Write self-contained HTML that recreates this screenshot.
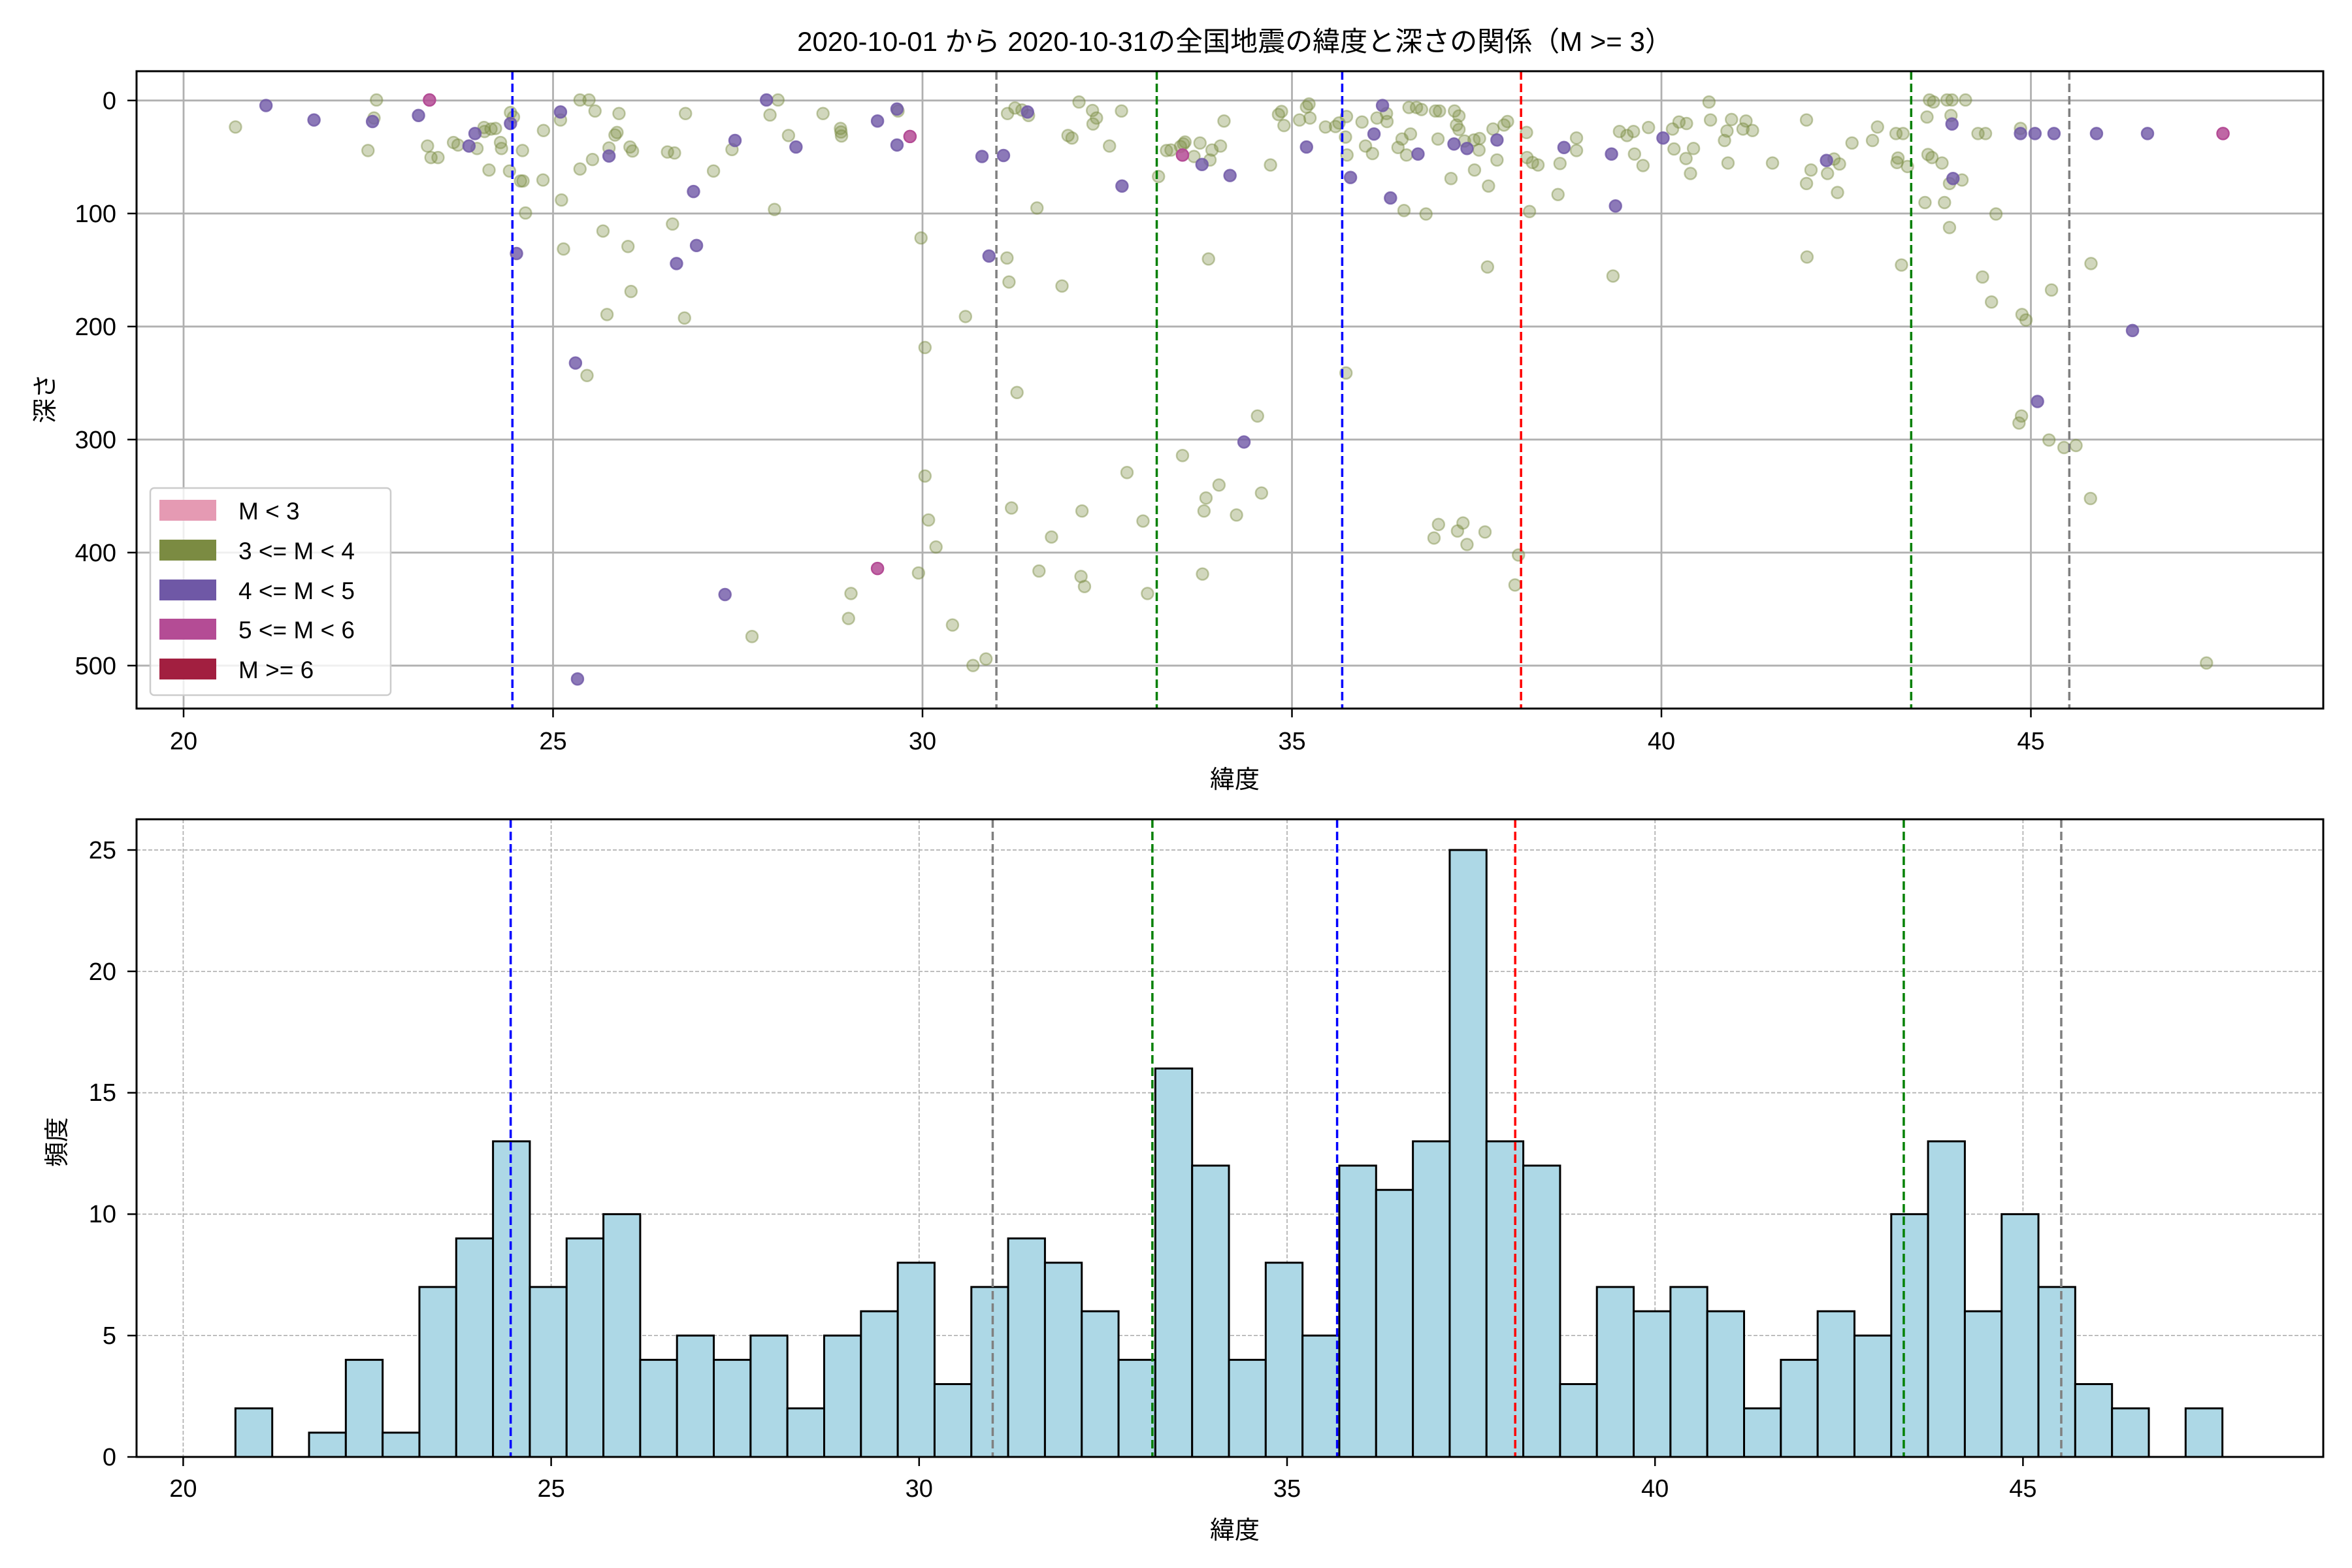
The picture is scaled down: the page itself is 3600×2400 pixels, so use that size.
<!DOCTYPE html>
<html><head><meta charset="utf-8"><style>
html,body{margin:0;padding:0;background:#fff;}
svg{display:block;}
text{font-family:"Liberation Sans","Noto Sans CJK JP",sans-serif;fill:#000;}
</style></head><body>
<svg id="s" width="3600" height="2400" viewBox="0 0 3600 2400" xmlns="http://www.w3.org/2000/svg">
<rect width="3600" height="2400" fill="#fff"/>
<g id="topgrid"></g>
<g id="pts"></g>
<g id="topv"></g>
<rect x="209" y="109" width="3347" height="975.5" fill="none" stroke="#000" stroke-width="3"/>
<g id="topticks"></g>
<text x="1890" y="78" font-size="42" text-anchor="middle">2020-10-01 から 2020-10-31の全国地震の緯度と深さの関係（M &gt;= 3）</text>
<text x="1890" y="1206" font-size="38" text-anchor="middle">緯度</text>
<text transform="translate(82,610) rotate(-90)" font-size="38" text-anchor="middle">深さ</text>
<text x="1890" y="2355" font-size="38" text-anchor="middle">緯度</text>
<text transform="translate(100,1748) rotate(-90)" font-size="38" text-anchor="middle">頻度</text>
<g id="legend">
<rect x="230" y="747" width="368" height="317" rx="6" fill="#fff" fill-opacity="0.8" stroke="#ccc" stroke-width="2.5"/>
<rect x="244" y="765" width="87" height="32" fill="#e59ab3"/>
<rect x="244" y="826" width="87" height="32" fill="#7b8b42"/>
<rect x="244" y="887" width="87" height="32" fill="#6f58a6"/>
<rect x="244" y="947" width="87" height="32" fill="#b44c95"/>
<rect x="244" y="1008" width="87" height="32" fill="#a21f40"/>
<text x="365" y="795" font-size="37">M &lt; 3</text>
<text x="365" y="856" font-size="37">3 &lt;= M &lt; 4</text>
<text x="365" y="917" font-size="37">4 &lt;= M &lt; 5</text>
<text x="365" y="977" font-size="37">5 &lt;= M &lt; 6</text>
<text x="365" y="1038" font-size="37">M &gt;= 6</text>
</g>
<g id="botgrid"></g>
<g id="bars"></g>
<g id="botv"></g>
<rect x="209" y="1254" width="3347" height="976" fill="none" stroke="#000" stroke-width="3"/>
<g id="botticks"></g>
<g id="ticktext" font-size="38">
<text x="281" y="1147" text-anchor="middle">20</text>
<text x="846.5" y="1147" text-anchor="middle">25</text>
<text x="1412" y="1147" text-anchor="middle">30</text>
<text x="1977.5" y="1147" text-anchor="middle">35</text>
<text x="2543" y="1147" text-anchor="middle">40</text>
<text x="3108.5" y="1147" text-anchor="middle">45</text>
<text x="178" y="167" text-anchor="end">0</text>
<text x="178" y="340" text-anchor="end">100</text>
<text x="178" y="513" text-anchor="end">200</text>
<text x="178" y="686" text-anchor="end">300</text>
<text x="178" y="859" text-anchor="end">400</text>
<text x="178" y="1032" text-anchor="end">500</text>
<text x="280.4" y="2291" text-anchor="middle">20</text>
<text x="843.6" y="2291" text-anchor="middle">25</text>
<text x="1406.8" y="2291" text-anchor="middle">30</text>
<text x="1970" y="2291" text-anchor="middle">35</text>
<text x="2533.2" y="2291" text-anchor="middle">40</text>
<text x="3096.4" y="2291" text-anchor="middle">45</text>
<text x="178" y="2243" text-anchor="end">0</text>
<text x="178" y="2057" text-anchor="end">5</text>
<text x="178" y="1871" text-anchor="end">10</text>
<text x="178" y="1685" text-anchor="end">15</text>
<text x="178" y="1500" text-anchor="end">20</text>
<text x="178" y="1314" text-anchor="end">25</text>
</g>
</svg>
<script>
var NS="http://www.w3.org/2000/svg";
function el(p,t,a){var e=document.createElementNS(NS,t);for(var k in a)e.setAttribute(k,a[k]);document.getElementById(p).appendChild(e);return e;}
var tx=function(v){return 281+113.1*(v-20);}, ty=function(d){return 153.8+1.73*d;};
var bx=function(v){return 280.4+112.64*(v-20);}, by=function(c){return 2230-37.16*c;};
for(var v=20;v<=45;v+=5){
 el("topgrid","line",{x1:tx(v),x2:tx(v),y1:109,y2:1084,stroke:"#b0b0b0","stroke-width":2.8});
 el("topticks","line",{x1:tx(v),x2:tx(v),y1:1084,y2:1098,stroke:"#000","stroke-width":2.5});
 el("botgrid","line",{x1:bx(v),x2:bx(v),y1:1254,y2:2230,stroke:"#b0b0b0","stroke-width":1.7,"stroke-dasharray":"6,3"});
 el("botticks","line",{x1:bx(v),x2:bx(v),y1:2230,y2:2244,stroke:"#000","stroke-width":2.5});
}
for(var d=0;d<=500;d+=100){
 el("topgrid","line",{x1:209,x2:3556,y1:ty(d),y2:ty(d),stroke:"#b0b0b0","stroke-width":2.8});
 el("topticks","line",{x1:195,x2:209,y1:ty(d),y2:ty(d),stroke:"#000","stroke-width":2.5});
}
for(var c=0;c<=25;c+=5){
 el("botgrid","line",{x1:209,x2:3556,y1:by(c),y2:by(c),stroke:"#b0b0b0","stroke-width":1.7,"stroke-dasharray":"6,3"});
 el("botticks","line",{x1:195,x2:209,y1:by(c),y2:by(c),stroke:"#000","stroke-width":2.5});
}
var counts=[2,0,1,4,1,7,9,13,7,9,10,4,5,4,5,2,5,6,8,3,7,9,8,6,4,16,12,4,8,5,12,11,13,25,13,12,3,7,6,7,6,2,4,6,5,10,13,6,10,7,3,2,0,2];
for(var i=0;i<counts.length;i++){
 var l=20.71+0.5*i, x1=bx(l), x2=bx(l+0.5);
 if(counts[i]>0) el("bars","rect",{x:x1,y:by(counts[i]),width:x2-x1,height:by(0)-by(counts[i]),fill:"#add8e6",stroke:"#000","stroke-width":3});
 else el("bars","line",{x1:x1,x2:x2,y1:2230,y2:2230,stroke:"#000","stroke-width":3});
}
var vl=[[24.45,"#0000ff"],[31.0,"#808080"],[33.17,"#008000"],[35.68,"#0000ff"],[38.1,"#ff0000"],[43.38,"#008000"],[45.52,"#808080"]];
vl.forEach(function(a){
 el("topv","line",{x1:tx(a[0]),x2:tx(a[0]),y1:109,y2:1084,stroke:a[1],"stroke-width":3.5,"stroke-dasharray":"13,6"});
 el("botv","line",{x1:bx(a[0]),x2:bx(a[0]),y1:1254,y2:2230,stroke:a[1],"stroke-width":3.5,"stroke-dasharray":"13,6"});
});
var tiles=[
[0,
 [[471,254],[753,200],[748,236],[736,301],[855,292],[862,315],[876,315],[907,285],[916,290],[954,297],[968,255],[982,258],[991,257],[969,263],[1001,285],[1003,297],[978,340],[1019,342],[1021,225],[1027,234],[1041,362],[1046,362],[1045,301],[1051,426],[1087,261],[1086,360],[1121,240],[1123,400],[1127,498],[1160,200],[1178,200],[1190,222],[1185,319],[1160,338],[1206,462],[1214,629],[1174,751],[1218,296],[1230,270],[1234,265],[1238,227],[1256,493],[1262,583],[1260,294],[1265,302],[1335,304],[1349,306],[1345,448],[1371,227],[1369,636],[1427,342],[1464,299],[1504,1273],[1549,419],[1540,230],[1556,200]],
 [[532,211],[628,240],[745,243],[837,231],[950,267],[938,292],[1021,247],[1121,224],[1218,312],[1033,507],[1151,726],[1353,527],[1387,383],[1393,491],[1450,1189],[1155,1358],[1533,200],[1470,281]],
 [[859,200]]],
[1200,
 [[9,271],[78,227],[113,257],[114,264],[115,272],[228,222],[274,476],[282,695],[282,952],[289,1040],[304,1094],[269,1146],[134,1187],[129,1237],[337,1250],[378,1331],[404,1318],[363,633],[446,516],[450,564],[466,785],[455,1016],[510,1142],[535,1074],[556,572],[506,416],[447,227],[462,216],[476,220],[489,231],[590,204],[617,221],[625,236],[618,248],[568,271],[576,276],[651,292],[675,222],[596,1022],[594,1153],[601,1173],[686,945],[718,1042],[727,1187],[749,353],[765,301],[774,300],[793,293],[799,288],[802,284],[820,313],[832,286],[856,300],[852,320],[873,292],[880,242],[849,518],[797,911],[837,1148],[840,1022],[844,996],[870,970],[905,1030],[947,832],[955,986],[973,330],[989,229],[995,223],[1000,251],[1031,240],[1045,214],[1050,208],[1052,236],[1083,254],[1103,253],[1110,246],[1125,233],[1123,274],[1126,310],[1124,746],[1156,244],[1163,292],[1177,307],[1186,236],[1205,227],[1206,243],[1228,295],[1236,278],[1245,310],[1253,268],[1240,421],[1284,428],[1250,215],[1265,215],[1275,219],[1303,222],[1311,222],[1308,278],[1341,222],[1350,232],[1345,250],[1350,259],[1361,282],[1380,280],[1391,277],[1390,300],[1381,340],[1334,357],[1409,372],[1418,258],[1426,320],[1407,534],[1440,250],[1447,243],[1485,265],[1486,315],[1497,325],[1508,330],[1491,423],[1548,389],[1552,327],[1309,1049],[1300,1076],[1347,1062],[1358,1046],[1366,1089],[1402,1064],[1469,1110],[1462,1170]],
 [[24,294],[187,242],[226,218],[226,290],[396,313],[439,311],[487,224],[676,372],[410,512],[836,329],[892,351],[920,884],[1045,294],[1133,355],[1180,268],[1197,211],[1213,396],[1268,308],[1340,288],[1366,297],[1426,280],[1560,295]],
 [[252,273],[187,1137],[797,310]]],
[2400,
 [[17,276],[17,301],[103,263],[118,271],[131,263],[133,308],[150,331],[90,552],[161,255],[209,258],[212,298],[222,244],[237,247],[236,317],[245,347],[251,297],[282,204],[285,240],[313,281],[318,262],[320,326],[327,239],[350,258],[356,242],[369,261],[409,326],[477,240],[477,367],[486,340],[478,514],[519,347],[532,318],[539,385],[543,328],[568,286],[609,281],[619,254],[656,267],[670,267],[658,325],[660,316],[679,333],[667,530],[718,234],[714,405],[723,200],[731,204],[720,309],[728,315],[748,326],[753,405],[763,455],[758,200],[768,200],[795,200],[766,231],[763,367],[788,360],[820,267],[835,267],[856,428],[829,554],[847,604],[905,257],[908,629],[916,640],[967,580],[1046,527],[1045,997],[962,880],[992,895],[1016,891],[907,832],[902,846],[1277,1326]],
 [[87,308],[95,412],[190,276],[517,321],[768,248],[770,357],[905,267],[934,267],[972,267],[1057,267],[1159,267],[1129,661],[939,803]],
 [[1310,267]]]
];
var k=1200/1568;
tiles.forEach(function(t){
 var off=t[0];
 t[1].forEach(function(p){el("pts","circle",{cx:off+p[0]*k,cy:p[1]*k,r:9,fill:"#7b8b42","fill-opacity":0.35,stroke:"#7b8b42","stroke-opacity":0.45,"stroke-width":2.5});});
 t[2].forEach(function(p){el("pts","circle",{cx:off+p[0]*k,cy:p[1]*k,r:9,fill:"#6f58a6","fill-opacity":0.8,stroke:"#6f58a6","stroke-opacity":0.8,"stroke-width":2.5});});
 t[3].forEach(function(p){el("pts","circle",{cx:off+p[0]*k,cy:p[1]*k,r:9,fill:"#b44c95","fill-opacity":0.85,stroke:"#b44c95","stroke-width":2.5});});
});
</script>
</body></html>
